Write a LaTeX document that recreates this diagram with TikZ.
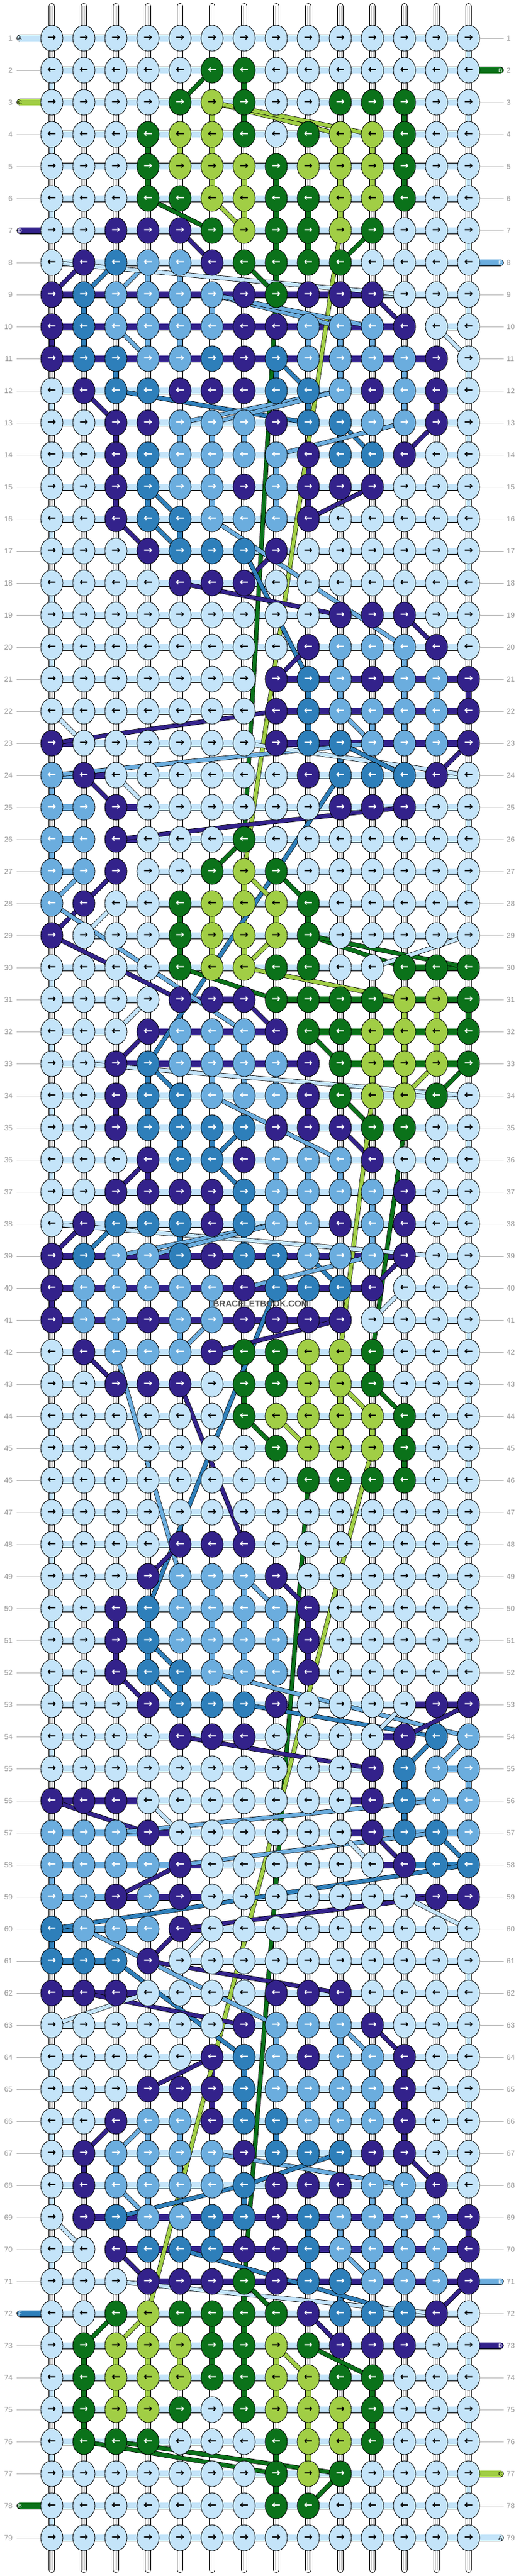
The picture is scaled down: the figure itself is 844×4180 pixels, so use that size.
\documentclass[tikz,border=0pt]{standalone}
\usepackage{fontspec}
\setmainfont{Liberation Sans}
\newfontfamily\arrowfont{DejaVu Sans}
\usepackage{xstring}
\usetikzlibrary{positioning,backgrounds,shapes.geometric}
\definecolor{cL}{RGB}{196,228,249}
\definecolor{cG}{RGB}{11,114,26}
\definecolor{cY}{RGB}{161,206,69}
\definecolor{cP}{RGB}{51,34,139}
\definecolor{cM}{RGB}{107,173,222}
\definecolor{cS}{RGB}{46,127,186}
\colorlet{aL}{black}\colorlet{aY}{black}
\colorlet{aG}{white}\colorlet{aP}{white}\colorlet{aM}{white}\colorlet{aS}{white}
\definecolor{rowgrey}{RGB}{150,150,150}

% does a knot sit on the string that runs through its row?
\newif\iftrav
\newcommand\checktrav[3]{%
  \global\travfalse
  \ifnum#2>0
    \pgfmathtruncatemacro\cl{#2-1}%
    \edef\segl{\csname S-#1-\cl\endcsname}%
    \if\segl#3\global\travtrue\fi
  \fi
  \ifnum#2<13
    \edef\segr{\csname S-#1-#2\endcsname}%
    \if\segr#3\global\travtrue\fi
  \fi}

\begin{document}
\begin{tikzpicture}[x=1pt,y=-1pt,
    % knots
    knot/.style={ellipse, draw=black, line width=0.8pt, minimum width=36pt, minimum height=42pt, inner sep=0pt, font=\arrowfont\bfseries\fontsize{17}{17}\selectfont},
    % strings
    tube/.style={draw=black, line width=0.8pt, double=white, double distance=8.4pt, line cap=round},
    tubecore/.style={draw=black!22, line width=0.6pt, double=white, double distance=2.6pt},
    hseg/.style={draw=black, line width=0.8pt, double=#1, double distance=9.4pt},
    vseg/.style={draw=black, line width=0.8pt, double=#1, double distance=8.4pt},
    carry/.style={draw=black, line width=0.7pt, double=#1, double distance=6pt},
    pill/.style={draw=black, line width=0.8pt, double=#1, double distance=9.4pt, line cap=round},
    % labels
    pilltext/.style={font=\fontsize{9}{9}\selectfont, inner sep=0pt},
    rowno/.style={text=rowgrey, font=\fontsize{12}{12}\selectfont, inner sep=0pt},
    rowline/.style={draw=rowgrey!70, line width=0.8pt},
    watermark/.style={text=black!68, font=\bfseries\fontsize{14}{14}\selectfont, inner sep=1pt}
  ]
  \useasboundingbox (0,0) rectangle (844,4180);

  % --- DATA: knot colours / colour of the running string ---
  \foreach \kr/\sg [count=\ri] in {
    LLLLLLLLLLLLLL/-, LLLLLGGLLLLLLL/-, LLLLGYGLLGGGLL/-, LLLGYYGLGYYGLL/-,
    LLLGYYYGYYYGLL/-, LLLGGYYGGYYGLL/-, LLPPPGYGGYGLLL/-, LPSMMPGGGGLLLL/-,
    PSMMMMPGPPPLLL/PPPPPPPPPPLLL, PSMMMMPPMMMPLL/PPPPPPPPPPPNL, PSSMMSPSMMMMPL/PPPPPPPPPPPPN,
    LPSSPPPSSMPMPL/-, LLPPMMMPSSMMPL/-, LLPSMMMMPSSPLL/-, LLPSMMPMPPPLLL/-,
    LLPSSMMMPLLLLL/-, LLLPSSSPLLLLLL/-, LLLLPPPLLLLLLL/-, LLLLLLLLLPPPLL/-,
    LLLLLLLLPMMMPL/-,
    LLLLLLLPSMPMMP/LLLLLLNPPPPPP, LLLLLLLPSMMMMP/LLLLLLNPPPPPP, PLLLLLLPSSMMMP/PLLLLLLPPPPPP,
    MPLLLLLLPSSSPL/MPLLLLLLLLLLL, MMPLLLLLLPPPLL/MNPLLLLLLLLLL, MMPLLLGLLLLLLL/MNPLLLLLLLLLL,
    MMPLLGYGLLLLLL/MNNLLLLLLLLLL, MPLLGYYYGLLLLL/NNLLLLLLLLLLL, PLLLGYYYGLLLLL/NLLLLLLLLLLLL,
    LLLLGYYGGLLGGG/LLLLLLLLLLNGG, LLLLPPPGGGGYYG/LLLNPPNGGGGGG, LLLPMMMPGGYYYG/LLNPPPPNGGGGG,
    LLPSMMMMPGYYYG/LLPPPPPPNGGGG,
    LLPSSMMMPGYYGL/-, LLPSSSSPPPGGLL/-, LLLPSSPMMMPLLL/-, LLPPPPSMMMMPLL/-, LPSSSPSMMPMPLL/-,
    PSMMSPSSMMMPLL/PPPPPPPPPPPNL, PMMMMMPSSSPLLL/PPPPPPPPPPNLL, PMMPMMPPPPLLLL/PPPPPPPPPNLLL,
    LPMMMPGGYYGLLL/-, LLPPPLGGYYGLLL/-, LLLLLLGYYYYGLL/-, LLLLLLLGYYYGLL/-,
    LLLLLLLLGGGGLL/-, LLLLLLLLLLLLLL/-, LLLLPPPLLLLLLL/-, LLLPMMMPLLLLLL/-,
    LLPSMMMMPLLLLL/-, LLPSMMMMPLLLLL/-, LLPSSMMMPLLLLL/-,
    LLLPSSSPLLLLPP/LLLLLLLLLLLPP, LLLLPPPLLLLPSM/LLLLLLLLLLPNN, LLLLLLLLLLPSMM/LLLLLLLLLLNNM,
    PPPLLLLLLLPSMM/PPPLLLLLLPNMM, MMMPLLLLLLPSSM/MMMPLLLLLPMMM, MMMMPLLLLLLPSS/MMMMPLLLLLPSS,
    MMPMPLLLLLLLPP/MMPPPLLLLLLPP, SMMMPLLLLLLLLL/SMMNPLLLLLLLL, SSSPLLLLLLLLLL/SSNNLLLLLLLLL,
    PPPLLLLPPPLLLL/PPPLLLLLLLLLL,
    LLLLLLPMMMPLLL/-, LLLLLPSMPMMPLL/-, LLLPPPSMMMMPLL/-, LLPMMPSSMMMPLL/-,
    LPMMMMPSSSPPLL/-, LPMMMMSPPPMMPL/-,
    LPSMMSSPSMMMMP/NPPPPPPPPPPPP, LLPSSSPPSMMMMP/LNPPPPPPPPPPP, LLLPPPGPSSMMMP/LLNPPPPPPPPPP,
    LLGYGGGGPSSSPL/-, LGYYYGGYGPPPLL/-, LGYYYGGYYGGLLL/-, LGYYGLGYYYGLLL/-,
    LGGGLLLGYYGLLL/-, LLLLLLLGYGLLLL/-, LLLLLLLGGLLLLL/-, LLLLLLLLLLLLLL/-}{
    \IfStrEq{\sg}{-}{\def\sg{LLLLLLLLLLLLL}}{}
    \foreach \ci in {0,...,13}{
      \pgfmathtruncatemacro\cn{\ci+1}
      \StrChar{\kr}{\cn}[\kc]
      \expandafter\xdef\csname K-\ri-\ci\endcsname{\kc}
    }
    \foreach \ci in {0,...,12}{
      \pgfmathtruncatemacro\cn{\ci+1}
      \StrChar{\sg}{\cn}[\segc]
      \expandafter\xdef\csname S-\ri-\ci\endcsname{\segc}
    }
  }

  % --- KNOTS ---
  \foreach \ri in {1,...,79}{
    \foreach \ci in {0,...,13}{
      \edef\kc{\csname K-\ri-\ci\endcsname}
      \node[knot, fill=c\kc, text=a\kc] (k-\ri-\ci) at ({84+52*\ci},{62+52*(\ri-1)}) {\ifodd\ri\relax\char"2192\else\char"2190\fi};
    }
  }

  \begin{scope}[on background layer]
    \fill[white] (0,0) rectangle (844,4180);
    % white base strings
    \foreach \ci in {0,...,13}{
      \draw[tube] ([yshift=52pt]k-1-\ci.center) -- ([yshift=-52pt]k-79-\ci.center);
      \draw[tubecore] ([yshift=52pt]k-1-\ci.center) -- ([yshift=-52pt]k-79-\ci.center);
    }
    % running strings
    \foreach \ri in {1,...,79}{
      \foreach \ci in {0,...,12}{
        \pgfmathtruncatemacro\cn{\ci+1}
        \edef\segc{\csname S-\ri-\ci\endcsname}
        \if N\segc\else
          \draw[hseg=c\segc] (k-\ri-\ci.center) -- (k-\ri-\cn.center);
        \fi
      }
    }
    % turns at the edges and strings going straight down
    \foreach \ri in {1,...,78}{
      \pgfmathtruncatemacro\rn{\ri+1}
      \ifodd\ri\relax\def\ec{13}\else\def\ec{0}\fi
      \foreach \ci in {0,...,13}{
        \edef\ka{\csname K-\ri-\ci\endcsname}
        \edef\kb{\csname K-\rn-\ci\endcsname}
        \ifx\ka\kb
          \ifnum\ci=\ec\relax
            \draw[vseg=c\ka] (k-\ri-\ci.center) -- (k-\rn-\ci.center);
          \else
            \if L\ka\else
              \checktrav{\ri}{\ci}{\ka}\iftrav\else
                \checktrav{\rn}{\ci}{\kb}\iftrav\else
                  \draw[vseg=c\ka] (k-\ri-\ci.center) -- (k-\rn-\ci.center);
                \fi
              \fi
            \fi
          \fi
        \fi
      }
    }
    % carried strings
    \foreach \clr/\ra/\ca/\rb/\cb in {
      G/2/5/3/4, Y/3/5/4/9, Y/3/5/4/10, G/6/3/7/5, Y/6/5/7/6, P/7/4/8/5, G/7/10/8/9,
      Y/7/9/27/6, P/8/1/9/0, S/8/2/9/1, M/8/3/9/2, L/8/0/9/11, G/8/6/9/7, G/9/7/26/6,
      M/9/5/10/9, M/9/5/10/10, P/9/10/10/11, M/10/2/11/3, L/10/12/11/13, S/11/7/12/8,
      P/12/1/13/2, S/12/2/13/8, M/12/9/13/4, M/12/9/13/5, S/13/9/14/10, M/13/11/14/7,
      P/13/12/14/11, S/15/3/16/4, P/15/10/16/8, P/16/2/17/3, S/16/3/17/4, M/16/5/20/11,
      P/17/7/18/6, S/17/6/21/8, P/18/4/19/9, P/19/11/20/12, P/20/8/21/7, M/22/9/23/10,
      P/22/7/23/0, L/22/0/23/1, M/23/10/24/0, L/23/6/24/13, S/23/9/24/11, P/23/13/24/12,
      P/24/1/25/2, L/24/2/25/3, S/24/9/33/3, P/25/11/26/2, M/27/1/28/0, P/27/2/28/1,
      P/28/1/29/0, G/26/6/27/5, Y/27/6/28/7, G/27/7/28/8, M/28/0/32/6, L/28/2/29/1,
      P/29/0/31/4, G/29/8/30/11, G/29/8/30/13, L/29/13/30/10, Y/29/7/30/6, G/30/4/31/7,
      Y/30/6/31/11, P/31/6/32/7, L/31/3/32/2, P/32/3/33/2, G/32/8/33/9, L/33/1/34/13,
      S/33/3/34/4, Y/33/12/34/11, G/33/13/34/12, M/34/5/35/7, G/34/9/35/10, M/35/7/36/9,
      P/35/9/36/10, Y/34/10/42/9, G/35/11/42/10, S/35/6/36/5, S/36/5/37/6, P/36/3/37/2,
      P/38/1/39/0, S/38/2/39/1, L/38/0/39/12, M/38/7/39/2, M/38/7/39/3, S/39/8/40/9,
      M/39/10/40/6, P/39/11/40/10, L/40/11/41/10, S/40/7/50/3, M/41/5/42/4, P/41/9/42/5,
      P/42/1/43/2, M/42/2/49/4, P/43/4/48/6, G/44/6/45/7, Y/44/7/45/8, G/43/10/44/11,
      Y/43/9/44/10, G/46/8/71/6, Y/45/10/72/3, P/48/4/49/3, M/49/6/50/7, P/49/7/50/8,
      S/51/3/52/4, S/52/3/53/4, P/52/2/53/3, M/52/5/54/13, S/53/6/54/12, L/53/11/54/10,
      P/53/13/54/11, P/54/4/55/10, S/54/12/55/11, M/54/13/55/12, P/56/0/57/3, M/56/12/57/2,
      L/56/3/57/4, M/57/12/58/4, L/57/9/58/10, P/57/10/58/11, S/57/12/58/13, S/58/13/60/0,
      P/58/4/59/2, P/59/12/60/4, L/59/11/60/13, P/60/4/61/3, L/60/5/61/4, M/60/1/63/7,
      S/61/2/64/6, P/61/3/62/9, P/62/1/63/6, L/62/3/63/0, M/63/9/64/10, P/63/10/64/11,
      P/64/5/65/3, P/66/2/67/1, M/66/3/67/2, M/67/5/68/11, S/67/9/68/6, S/68/6/69/2,
      M/68/2/69/3, P/67/11/68/12, L/69/0/70/1, P/70/2/71/3, S/70/4/72/11, M/70/9/71/10,
      L/71/2/72/12, G/71/6/72/7, P/71/13/72/12, G/72/2/73/1, Y/72/3/73/2, P/72/8/73/9,
      Y/73/7/74/8, G/73/8/74/10, G/76/1/77/7, G/76/2/77/9, G/77/9/78/8}{
      \draw[carry=c\clr] (k-\ra-\ca.center) -- (k-\rb-\cb.center);
    }
    % loose ends of the strings
    \foreach \ri/\ci/\pc/\pl/\px in {1/0/L/A/32.5, 2/13/G/B/811.5, 3/0/Y/C/32.5, 7/0/P/D/32.5,
        8/13/M/E/811.5, 71/13/M/E/811.5, 72/0/S/F/32.5, 73/13/P/D/811.5, 77/13/Y/C/811.5,
        78/0/G/B/32.5, 79/13/L/A/811.5}{
      \expandafter\xdef\csname pill-\ri-\ci\endcsname{1}
      \coordinate (pend-\ri-\ci) at (\px,{62+52*(\ri-1)});
      \draw[pill=c\pc] (pend-\ri-\ci) -- (k-\ri-\ci.center);
      \node[pilltext, text=a\pc] (plab-\ri-\ci) at (pend-\ri-\ci) {\pl};
    }
  \end{scope}

  % --- ROW NUMBERS ---
  \foreach \ri in {1,...,79}{
    \node[rowno, anchor=east] (nl-\ri) at (20.5,{62+52*(\ri-1)}) {\ri};
    \node[rowno, anchor=west] (nr-\ri) at (821.5,{62+52*(\ri-1)}) {\ri};
    \ifcsname pill-\ri-0\endcsname\else\draw[rowline] (k-\ri-0.west) -- ++(-39,0);\fi
    \ifcsname pill-\ri-13\endcsname\else\draw[rowline] (k-\ri-13.east) -- ++(39,0);\fi
  }

  \node[watermark] (wm) at (423,2116) {BRACELETBOOK.COM};
\end{tikzpicture}
\end{document}
